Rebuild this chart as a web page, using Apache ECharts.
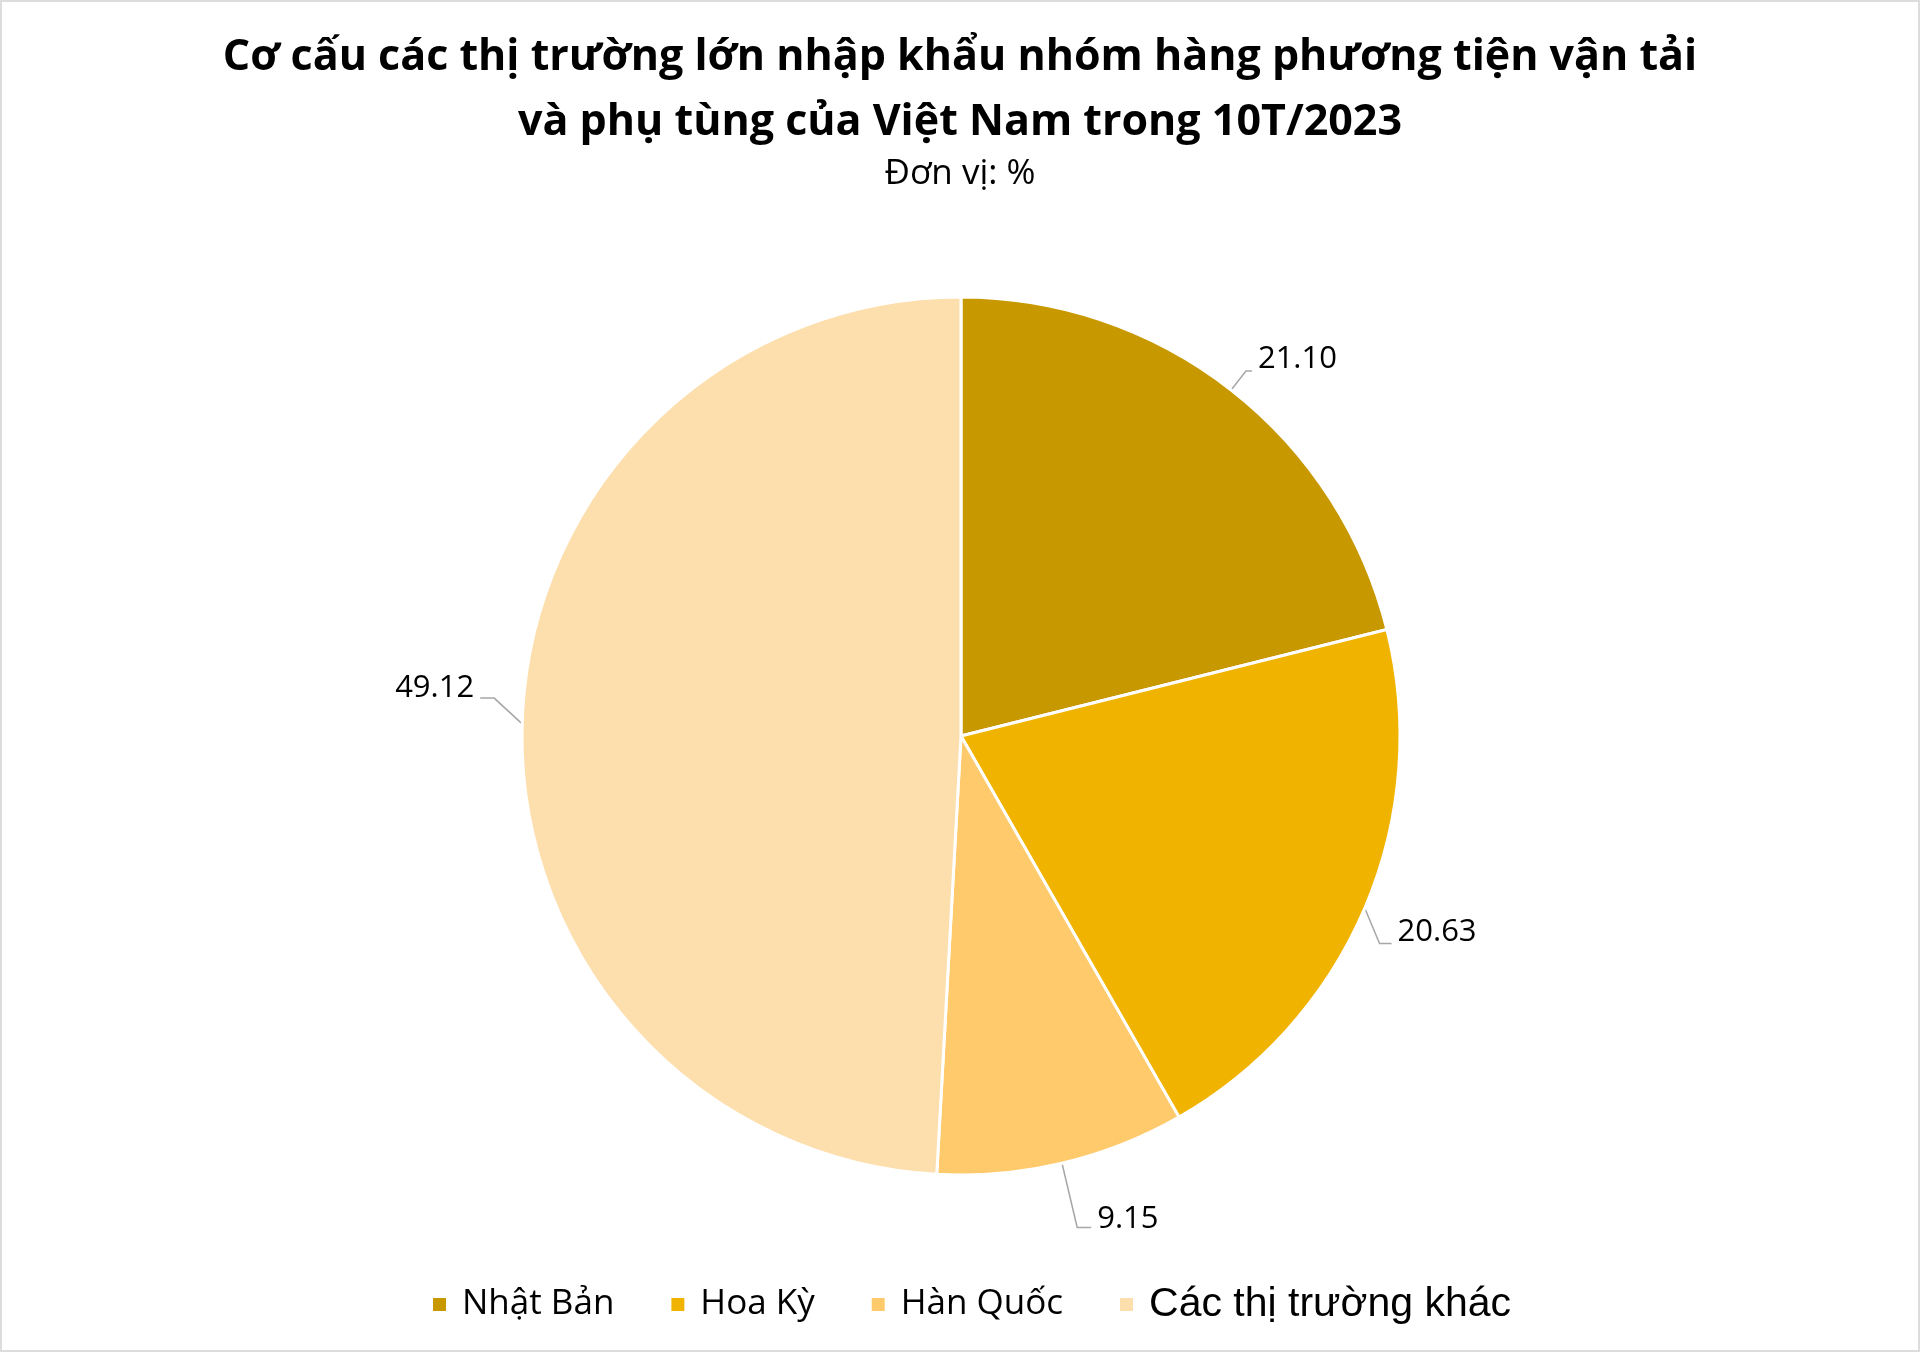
<!DOCTYPE html>
<html>
<head>
<meta charset="utf-8">
<script src="https://cdn.jsdelivr.net/npm/echarts@6/dist/echarts.min.js"></script>
<style>
html,body{margin:0;padding:0;background:#fff;}
#c{width:1920px;height:1352px;box-sizing:border-box;border:2px solid #dcdcdc;}
</style>
</head>
<body>
<div id="c"></div>
<script>
const titleLines = ['Cơ cấu các thị trường lớn nhập khẩu nhóm hàng phương tiện vận tải', 'và phụ tùng của Việt Nam trong 10T/2023'];
const unitText = 'Đơn vị: %';
const categories = ['Nhật Bản', 'Hoa Kỳ', 'Hàn Quốc', 'Các thị trường khác'];
const values = [21.10, 20.63, 9.15, 49.12];
const colors = ['#C89800', '#F0B400', '#FFCA6C', '#FDDEAD'];
// leader-line styling (lengths / elbow offsets), not data
const lineLengths = [24, 16, 66, 28];
const elbowShift = [0, 29, 0, -25];
const labelRaise = [12, 11, 8, 10];
const labelShiftX = [-6, 0, 2, -2];

const chart = echarts.init(document.getElementById('c'), null, {renderer: 'canvas'});
const FONT = '"Open Sans", "Noto Sans", sans-serif';

chart.setOption({
  backgroundColor: '#ffffff',
  animation: false,
  title: [
    {
      text: titleLines[0], left: 'center', top: 23,
      textStyle: {fontFamily: FONT, fontWeight: 'bold', fontSize: 43, lineHeight: 56, color: '#000'}
    },
    {
      text: titleLines[1], left: 'center', top: 88,
      textStyle: {fontFamily: FONT, fontWeight: 'bold', fontSize: 43, lineHeight: 56, color: '#000'}
    },
    {
      text: unitText, left: 'center', top: 145,
      textStyle: {fontFamily: FONT, fontWeight: 'normal', fontSize: 35, lineHeight: 44, color: '#000'}
    }
  ],
  legend: {
    bottom: 20,
    left: 424,
    itemWidth: 15,
    itemHeight: 15,
    itemGap: 55,
    icon: 'rect',
    textStyle: {
      fontFamily: FONT, fontSize: 35, color: '#000', padding: [0, 0, 0, 10],
      rich: {big: {fontFamily: '"Liberation Sans", Arial, sans-serif', fontSize: 41, color: '#000'}}
    },
    formatter: function (name) {
      return name === categories[3] ? '{big|' + name + '}' : name;
    },
    data: categories
  },
  series: [{
    type: 'pie',
    center: [959, 734],
    radius: [0, 439],
    startAngle: 90,
    clockwise: true,
    avoidLabelOverlap: false,
    itemStyle: {borderColor: '#ffffff', borderWidth: 3},
    label: {
      show: true,
      position: 'outside',
      formatter: function (p) { return p.value.toFixed(2); },
      fontFamily: FONT,
      fontSize: 31,
      color: '#000',
      distanceToLabelLine: 6
    },
    labelLine: {show: true, length: 30, length2: 12, smooth: false, lineStyle: {color: '#a6a6a6', width: 1.5}},
    labelLayout: function (p) {
      const i = p.dataIndex;
      const s = elbowShift[i];
      const res = {dx: labelShiftX[i], dy: s - labelRaise[i]};
      const pts = p.labelLinePoints;
      if (pts && pts.length === 3) {
        res.labelLinePoints = [pts[0].slice(), [pts[1][0], pts[1][1] + s], [pts[2][0] + labelShiftX[i], pts[2][1] + s]];
      }
      return res;
    },
    emphasis: {disabled: true},
    data: categories.map(function (c, i) {
      return {
        name: c,
        value: values[i],
        itemStyle: {color: colors[i]},
        labelLine: {length: lineLengths[i]}
      };
    })
  }]
});
</script>
</body>
</html>
